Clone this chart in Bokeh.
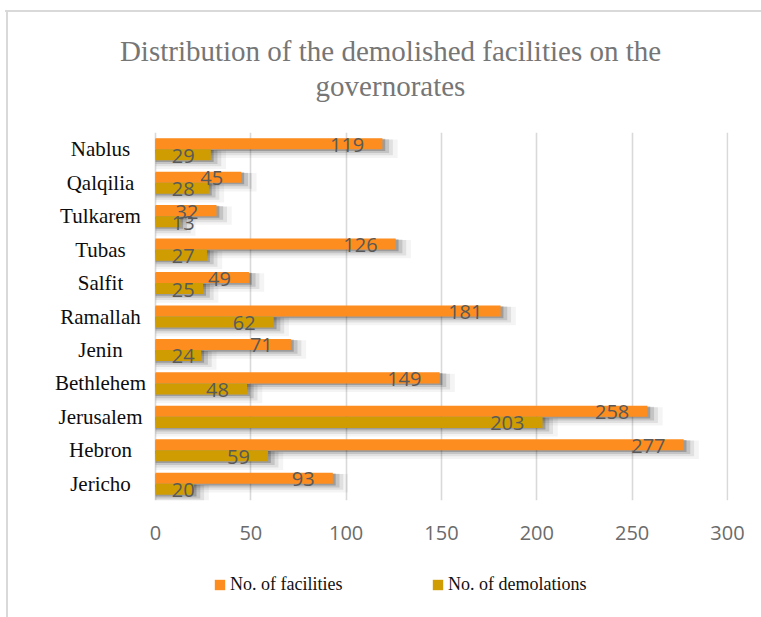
import numpy as np
from bokeh.plotting import figure
from bokeh.layouts import column
from bokeh.models import (ColumnDataSource, FactorRange, Range1d, FixedTicker,
                          Label, Legend, LegendItem)
from bokeh.transform import dodge
from bokeh.core.properties import value
from bokeh.embed import file_html
from bokeh.resources import INLINE

# ---- data (top-to-bottom order as in the reference) ----
governorates = ["Nablus", "Qalqilia", "Tulkarem", "Tubas", "Salfit", "Ramallah",
                "Jenin", "Bethlehem", "Jerusalem", "Hebron", "Jericho"]
facilities = [119, 45, 32, 126, 49, 181, 71, 149, 258, 277, 93]
demolitions = [29, 28, 13, 27, 25, 62, 24, 48, 203, 59, 20]
x_ticks = [0, 50, 100, 150, 200, 250, 300]

title_line1 = "Distribution of the demolished facilities on the"
title_line2 = "governorates"
series_names = ["No. of facilities", "No. of demolations"]

ORANGE = "#fd8d1e"
GOLD = "#cf9d02"
BORDER = "#d9d9d9"

W = 761
H_TITLE, H_MAIN, H_LEG = 110, 450, 57


def clear(fig):
    fig.outline_line_color = None
    fig.background_fill_alpha = 0
    fig.border_fill_alpha = 0


# ------------------------------------------------------------------ title
tf = figure(width=W, height=H_TITLE, output_backend="svg", toolbar_location=None,
            x_range=Range1d(0, W), y_range=Range1d(0, H_TITLE),
            x_axis_location=None, y_axis_location=None, title=None, min_border=0)
clear(tf)
tf.grid.visible = False
for txt, yy in ((title_line1, H_TITLE - 50), (title_line2, H_TITLE - 85)):
    tf.add_layout(Label(x=390, y=yy, x_units="screen", y_units="screen", text=txt,
                        text_align="center", text_baseline="middle",
                        text_font="Liberation Serif", text_font_size="29px",
                        text_color="#767676"))

# ------------------------------------------------------------------ main chart
fac = np.array(facilities, dtype=float)
dem = np.array(demolitions, dtype=float)

axis_px = 572.0            # pixel span of 0..300
px_per_unit = axis_px / 300.0
left_pad_px = 155.0        # room left of zero for the category names
right_pad_px = 1.0
x_start = -left_pad_px / px_per_unit
x_end = 300 + right_pad_px / px_per_unit
frame_w = int(left_pad_px + axis_px + right_pad_px)

lab_pad, lab_min = 9.5, 20.5
shadow_layers = [  # (extra length, vertical shift, extra height, alpha)
    (8.0, -0.15, 0.22, 0.045),
    (5.5, -0.11, 0.14, 0.08),
    (3.5, -0.07, 0.08, 0.12),
    (1.5, -0.035, 0.03, 0.2),
]
cols = dict(gov=governorates, fac=fac, dem=dem,
            fac_lab=np.maximum(fac - lab_pad, lab_min),
            dem_lab=np.maximum(dem - lab_pad, lab_min),
            fac_txt=[str(v) for v in facilities],
            dem_txt=[str(v) for v in demolitions],
            zero=np.zeros(len(governorates)))
for k, (ext, _, _, _) in enumerate(shadow_layers):
    cols[f"fac_sh{k}"] = fac + ext
    cols[f"dem_sh{k}"] = dem + ext
src = ColumnDataSource(cols)

factors = list(reversed(governorates))

p = figure(width=W, height=H_MAIN, output_backend="svg", toolbar_location=None,
           title=None, y_axis_location=None,
           y_range=FactorRange(*factors), x_range=Range1d(x_start, x_end),
           min_border_left=0, min_border_right=W - frame_w,
           min_border_top=22, min_border_bottom=60)
clear(p)

bh = 0.33
off = 0.165

# soft drop shadows
for col, o in (("fac", off), ("dem", -off)):
    for k, (_, dy, dh, a) in enumerate(shadow_layers):
        p.hbar(y=dodge("gov", o + dy, range=p.y_range), left=0,
               right=f"{col}_sh{k}", height=bh + dh, source=src,
               fill_color="black", fill_alpha=a, line_color=None)

r_fac = p.hbar(y=dodge("gov", off, range=p.y_range), left=0, right="fac", height=bh,
               source=src, fill_color=ORANGE, line_color=None)
r_dem = p.hbar(y=dodge("gov", -off, range=p.y_range), left=0, right="dem", height=bh,
               source=src, fill_color=GOLD, line_color=None)

# data labels
for col, o in (("fac", off), ("dem", -off)):
    p.text(x=col + "_lab", y=dodge("gov", o, range=p.y_range), text=col + "_txt",
           source=src, text_align="right", text_baseline="middle", y_offset=1,
           text_font=value("Open Sans"), text_font_size="20px", text_color="#595959")

# category names, centred in the space left of the value axis
p.text(x="zero", y="gov", text="gov", source=src, x_offset=-55,
       text_align="center", text_baseline="middle",
       text_font=value("Liberation Serif"), text_font_size="21px",
       text_color="#0d0d0d")

p.xaxis.ticker = FixedTicker(ticks=x_ticks)
p.xaxis.axis_line_color = None
p.xaxis.major_tick_line_color = None
p.xaxis.minor_tick_line_color = None
p.xaxis.major_tick_in = 0
p.xaxis.major_tick_out = 0
p.xaxis.major_label_standoff = 25
p.xaxis.major_label_text_font = "Open Sans"
p.xaxis.major_label_text_font_size = "20px"
p.xaxis.major_label_text_color = "#6b6b6b"

p.ygrid.grid_line_color = None
p.xgrid.grid_line_color = BORDER
p.xgrid.grid_line_width = 1.6

# ------------------------------------------------------------------ legend strip
lf = figure(width=W, height=H_LEG, output_backend="svg", toolbar_location=None,
            x_range=Range1d(0, 1), y_range=Range1d(0, 1),
            x_axis_location=None, y_axis_location=None, title=None, min_border=0)
clear(lf)
lf.grid.visible = False
# zero-height bars: they only lend their colours to the legend swatches
lr_fac = lf.vbar(x=[0.5], top=[0], bottom=0, width=0, fill_color=ORANGE, line_color=None)
lr_dem = lf.vbar(x=[0.5], top=[0], bottom=0, width=0, fill_color=GOLD, line_color=None)

for name, rend, xloc in ((series_names[0], lr_fac, 213), (series_names[1], lr_dem, 431)):
    lf.add_layout(Legend(items=[LegendItem(label=name, renderers=[rend])],
                         location=(xloc, 22), orientation="horizontal",
                         glyph_width=13, glyph_height=13, label_standoff=4,
                         padding=0, margin=0, border_line_color=None,
                         background_fill_alpha=0,
                         label_text_font="Liberation Serif",
                         label_text_font_size="18px",
                         label_text_color="#111111"))

# thin chart-area border (top and left edges), painted behind the figures
frame_css = ("linear-gradient(#d9d9d9,#d9d9d9) 6px 10px / 2px calc(100% - 10px) no-repeat, "
             "linear-gradient(#d9d9d9,#d9d9d9) 5px 10px / calc(100% - 5px) 2px no-repeat, "
             "white")
layout = column(tf, p, lf, spacing=0, styles={"background": frame_css})
open("out.html", "w").write(file_html(layout, INLINE))
